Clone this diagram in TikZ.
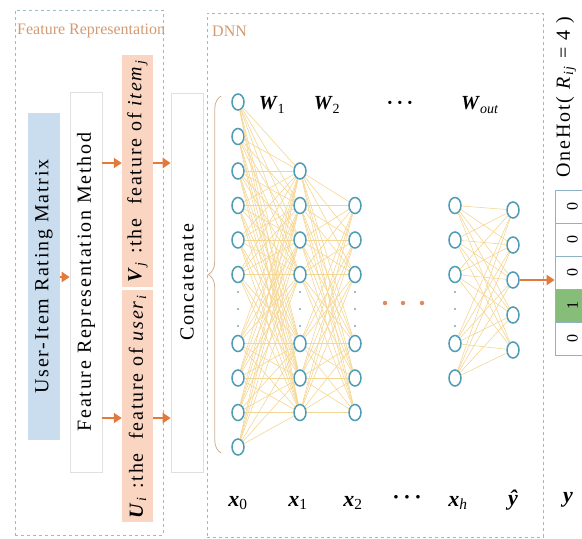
\documentclass[tikz,border=0pt]{standalone}
\usepackage{fontspec}
\usepackage{graphicx}
\setmainfont{Liberation Serif}
\newfontfamily\spaced[LetterSpace=9]{Liberation Serif}
\usetikzlibrary{arrows.meta,shapes.geometric,decorations.pathreplacing}

\definecolor{frame}{HTML}{9DB9CC}
\definecolor{titleclr}{HTML}{D49A70}
\definecolor{bluebox}{HTML}{C9DDEE}
\definecolor{salmon}{HTML}{F9D5C2}
\definecolor{boxline}{HTML}{E0E0E0}
\definecolor{arrowclr}{HTML}{E27A3C}
\definecolor{neuron}{HTML}{4E9CB6}
\definecolor{wire}{HTML}{F4D694}
\definecolor{bracec}{HTML}{CDAE92}
\definecolor{hotgreen}{HTML}{86BD78}
\definecolor{cellline}{HTML}{8FB3C6}
\definecolor{dotclr}{HTML}{7AA7B8}
\definecolor{odot}{HTML}{D98C5F}

\newcommand\vlab[2]{\textbf{\textit{#1}}\textsubscript{#2}}

\begin{document}
\begin{tikzpicture}[x=1pt,y=-1pt,
  panel/.style={draw=frame, dashed, line width=0.7pt, inner sep=0pt},
  paneltitle/.style={text=titleclr, font=\fontsize{16}{16}\selectfont, inner sep=0pt},
  box/.style={inner sep=0pt, font=\spaced\fontsize{20}{20}\selectfont},
  whitebox/.style={box, draw=boxline, fill=white, line width=0.6pt},
  arr/.style={draw=arrowclr, line width=2.8pt, -{Triangle[length=8pt,width=10pt]}},
  neur/.style={ellipse, draw=neuron, fill=white, line width=1.5pt, minimum width=12pt, minimum height=16pt, inner sep=0pt},
  wireln/.style={draw=wire, line width=0.6pt},
  cdot/.style={circle, fill=dotclr, inner sep=0pt, minimum size=2.2pt},
  hdot/.style={circle, fill=odot, inner sep=0pt, minimum size=4.5pt},
  cell/.style={draw=cellline, line width=0.7pt, minimum width=35pt, minimum height=33pt, inner sep=0pt, font=\fontsize{16}{16}\selectfont},
  wlab/.style={font=\fontsize{20}{20}\selectfont, inner sep=0pt},
  xlab/.style={font=\fontsize{22}{22}\selectfont, inner sep=0pt}
]
\useasboundingbox (0,0) rectangle (582,539);

% ---- feature representation panel ----
\node[panel, anchor=north west, minimum width=148pt, minimum height=525pt] (frpanel) at (15,10) {};
\node[paneltitle, anchor=west] (frtitle) at (17,31) {Feature Representation};

\node[box, fill=bluebox, minimum width=32pt, minimum height=327pt] (matrix) at (44,276.5)
  {\rotatebox{90}{User-Item Rating Matrix}};
\node[whitebox, minimum width=32pt, minimum height=380pt] (method) at (86,282)
  {\rotatebox{90}{Feature Representation Method}};
\node[box, fill=salmon, minimum width=31pt, minimum height=232pt] (vfeat) at (137.5,171)
  {\rotatebox{90}{\vlab{V}{\textit{j}} :the\ \ feature of \textit{item}\textsubscript{\textit{j}}}};
\node[box, fill=salmon, minimum width=31pt, minimum height=232pt] (ufeat) at (137.5,406)
  {\rotatebox{90}{\vlab{U}{\textit{i}} :the\ \ feature of \textit{user}\textsubscript{\textit{i}}}};

\node[whitebox, minimum width=32pt, minimum height=379pt] (concat) at (187,282.5)
  {\rotatebox{90}{Concatenate}};

\draw[arr] (matrix.east |- 0,277) -- (method.west |- 0,277);
\draw[arr] (method.east |- 0,163) -- (vfeat.west |- 0,163);
\draw[arr] (method.east |- 0,418) -- (ufeat.west |- 0,418);
\draw[arr] (vfeat.east |- 0,163) -- (concat.west |- 0,163);
\draw[arr] (ufeat.east |- 0,418) -- (concat.west |- 0,418);

% ---- DNN panel ----
\node[panel, anchor=north west, minimum width=336pt, minimum height=524pt] (dnnpanel) at (207,13) {};
\node[paneltitle, anchor=west] (dnntitle) at (212,31) {DNN};

% neurons
\foreach \k in {0,1,2,3,4,5,7,8,9,10}
  \node[neur] (a\k) at (238,{102+34.5*\k}) {};
\foreach \k in {2,3,4,5,7,8,9}
  \node[neur] (b\k) at (300,{102+34.5*\k}) {};
\foreach \k in {3,4,5,7,8,9}
  \node[neur] (c\k) at (355,{102+34.5*\k}) {};
\foreach \k in {3,4,5,7,8}
  \node[neur] (h\k) at (455,{102+34.5*\k}) {};
\foreach \k in {0,...,4}
  \node[neur] (o\k) at (513,{210+35*\k}) {};

% full connections
\foreach \i in {0,1,2,3,4,5,7,8,9,10}
  \foreach \j in {2,3,4,5,7,8,9}
    \draw[wireln] (a\i) -- (b\j);
\foreach \i in {2,3,4,5,7,8,9}
  \foreach \j in {3,4,5,7,8,9}
    \draw[wireln] (b\i) -- (c\j);
\foreach \i in {3,4,5,7,8}
  \foreach \j in {0,...,4}
    \draw[wireln] (h\i) -- (o\j);

% vertical ellipses inside the layers
\foreach \x in {238,300,355,455}
  \foreach \y in {292,309,326}
    \node[cdot] at (\x,\y) {};

% horizontal ellipsis between hidden layers
\foreach \x in {385,403,422}
  \node[hdot] at (\x,303) {};

% input brace
\draw[bracec, line width=0.8pt, decorate, decoration={brace, amplitude=13pt}]
  (a10.west) ++(-10,6) coordinate (bb) (a0.west) ++(-10,-6) coordinate (bt)
  (bb) -- (bt);

% weight labels
\node[wlab] (w1) at (272,105) {\vlab{W}{1}};
\node[wlab] (w2) at (327,105) {\vlab{W}{2}};
\node[wlab] (wdots) at (400,105) {\textbf{·\,·\,·}};
\node[wlab] (wout) at (480,105) {\vlab{W}{\textit{out}}};

% layer labels
\node[xlab] (l0) at (238,503) {\vlab{x}{0}};
\node[xlab] (l1) at (298,503) {\vlab{x}{1}};
\node[xlab] (l2) at (353,503) {\vlab{x}{2}};
\node[xlab] (ldots) at (407,500) {\textbf{·\,·\,·}};
\node[xlab] (lh) at (458,503) {\vlab{x}{\textit{h}}};
\node[xlab] (lyhat) at (513,500) {\textbf{\textit{ŷ}}};
\node[xlab] (ly) at (568,500) {\textbf{\textit{y}}};

% ---- one-hot target ----
\node[box, anchor=center] (onehot) at (566,97)
  {\rotatebox{90}{OneHot(\ \textit{R}\textsubscript{\textit{ij}} = 4 )}};
\node[cell] (t0) at (572.5,206.5) {\rotatebox{90}{0}};
\node[cell] (t1) at (572.5,239.5) {\rotatebox{90}{0}};
\node[cell] (t2) at (572.5,272.5) {\rotatebox{90}{0}};
\node[cell, fill=hotgreen] (t3) at (572.5,305.5) {\rotatebox{90}{1}};
\node[cell] (t4) at (572.5,338.5) {\rotatebox{90}{0}};

\draw[arr] (o2.east) -- (t2.west |- o2.east);
\end{tikzpicture}
\end{document}
